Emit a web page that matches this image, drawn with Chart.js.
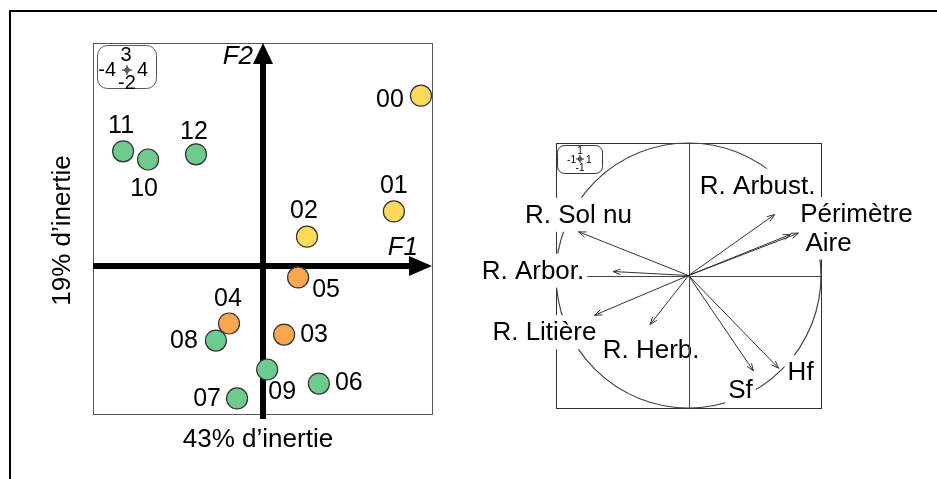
<!DOCTYPE html>
<html>
<head>
<meta charset="utf-8">
<script src="https://cdn.jsdelivr.net/npm/chart.js@4.4.0/dist/chart.umd.min.js"></script>
<style>
  body { margin: 0; background: #fff; width: 937px; height: 479px; overflow: hidden; position: relative; }
  #frame { position: absolute; left: 9px; top: 10px; width: 940px; height: 480px; border-top: 2px solid #000; border-left: 2px solid #000; }
  canvas { position: absolute; top: 0; }
</style>
</head>
<body>
<div id="frame"></div>
<canvas id="scoreChart" width="480" height="479" style="left:0"></canvas>
<canvas id="circleChart" width="467" height="479" style="left:470px"></canvas>
<script>
// relevés dans le plan F1 x F2
var siteLabels = ["00", "01", "02", "03", "04", "05", "06", "07", "08", "09", "10", "11", "12"];
var siteF1 = [3.74, 3.10, 1.05, 0.51, -0.79, 0.84, 1.33, -0.60, -1.10, 0.11, -2.70, -3.29, -1.57];
var siteF2 = [2.29, 0.73, 0.39, -0.93, -0.78, -0.16, -1.59, -1.79, -1.01, -1.40, 1.43, 1.54, 1.50];
var siteGroup = [0, 0, 0, 1, 1, 1, 2, 2, 2, 2, 2, 2, 2];
var groupColors = ["#FFD95A", "#F9A64E", "#6CCB8D"];
// décalage des étiquettes (px)
var siteLabelOffset = [[-31, 3], [0, -26], [-3, -27], [30, 0], [-1, -25], [28, 12], [30, -1], [-30, 0], [-32, 0], [15, 22], [-4, 29], [-2, -26], [-2, -23]];

// cercle des corrélations
var varLabels = ["R. Arbust.", "Périmètre", "Aire", "R. Sol nu", "R. Arbor.", "R. Litière", "R. Herb.", "Sf", "Hf"];
var varF1 = [0.65, 0.83, 0.77, -0.83, -0.57, -0.71, -0.29, 0.49, 0.68];
var varF2 = [0.46, 0.32, 0.31, 0.33, 0.03, -0.30, -0.37, -0.72, -0.70];
var varLabelOffset = [[-17, -29], [58, -19], [38, 8], [0, -17], [-80, -1], [-50, 17], [1, 25], [-13, 19], [22, 4]];

var FONT = "'Liberation Sans', Arial, sans-serif";

function insetBox(ctx, x, y, w, h, r) {
  ctx.beginPath();
  ctx.roundRect(x + 0.5, y + 0.5, w, h, r);
  ctx.stroke();
}
function crossMark(ctx, cx, cy, s) {
  ctx.beginPath();
  ctx.arc(cx, cy, s * 0.45, 0, Math.PI * 2);
  ctx.moveTo(cx - s, cy); ctx.lineTo(cx + s, cy);
  ctx.moveTo(cx, cy - s); ctx.lineTo(cx, cy + s);
  ctx.stroke();
}

// ---------- graphe de gauche ----------
var scoreDecor = {
  id: "scoreDecor",
  beforeDatasetsDraw: function (chart) {
    var ctx = chart.ctx, a = chart.chartArea;
    var x0 = Math.round(chart.scales.x.getPixelForValue(0));
    var y0 = Math.round(chart.scales.y.getPixelForValue(0));
    ctx.save();
    ctx.strokeStyle = "#555";
    ctx.lineWidth = 1;
    ctx.strokeRect(a.left + 0.5, a.top + 0.5, a.right - a.left, a.bottom - a.top);

    // axes F1 et F2
    ctx.strokeStyle = "#000";
    ctx.fillStyle = "#000";
    ctx.lineWidth = 6;
    ctx.beginPath(); ctx.moveTo(a.left, y0); ctx.lineTo(a.right - 20, y0); ctx.stroke();
    ctx.beginPath(); ctx.moveTo(a.right, y0); ctx.lineTo(a.right - 23, y0 - 10); ctx.lineTo(a.right - 23, y0 + 10); ctx.closePath(); ctx.fill();
    ctx.beginPath(); ctx.moveTo(x0, a.bottom + 5); ctx.lineTo(x0, a.top + 18); ctx.stroke();
    ctx.beginPath(); ctx.moveTo(x0, a.top); ctx.lineTo(x0 - 10, a.top + 21); ctx.lineTo(x0 + 10, a.top + 21); ctx.closePath(); ctx.fill();

    ctx.font = "italic 26px " + FONT;
    ctx.textBaseline = "middle";
    ctx.textAlign = "right";
    ctx.fillText("F2", x0 - 10, a.top + 14);
    ctx.fillText("F1", a.right - 14, y0 - 18);

    // titres des axes
    ctx.font = "26px " + FONT;
    ctx.textAlign = "center";
    ctx.fillText("43% d\u2019inertie", 258, 440);
    ctx.save();
    ctx.translate(63, (a.top + a.bottom) / 2 + 2);
    ctx.rotate(-Math.PI / 2);
    ctx.fillText("19% d\u2019inertie", 0, 0);
    ctx.restore();

    // échelle
    ctx.strokeStyle = "#555";
    ctx.lineWidth = 1;
    insetBox(ctx, 97, 45, 59, 43, 10);
    ctx.font = "20px " + FONT;
    ctx.textAlign = "center";
    ctx.fillText("3", 126, 55);
    ctx.fillText("-2", 127, 83);
    ctx.textAlign = "right";
    ctx.fillText("-4", 116, 70);
    ctx.textAlign = "left";
    ctx.fillText("4", 137, 70);
    ctx.strokeStyle = "#222";
    crossMark(ctx, 127, 70, 5);
    ctx.restore();
  },
  afterDatasetsDraw: function (chart) {
    var ctx = chart.ctx;
    var meta = chart.getDatasetMeta(0);
    ctx.save();
    ctx.font = "25px " + FONT;
    ctx.fillStyle = "#000";
    ctx.textAlign = "center";
    ctx.textBaseline = "middle";
    meta.data.forEach(function (pt, i) {
      ctx.fillText(siteLabels[i], pt.x + siteLabelOffset[i][0], pt.y + siteLabelOffset[i][1] + 1);
    });
    ctx.restore();
  }
};

new Chart(document.getElementById("scoreChart"), {
  type: "scatter",
  data: {
    datasets: [{
      data: siteF1.map(function (v, i) { return { x: v, y: siteF2[i] }; }),
      backgroundColor: siteGroup.map(function (g) { return groupColors[g]; }),
      borderColor: "#333",
      borderWidth: 1.2,
      pointRadius: 10.5,
      clip: false
    }]
  },
  options: {
    responsive: false,
    devicePixelRatio: 1,
    animation: false,
    layout: { padding: { left: 93, top: 43, right: 48, bottom: 65 } },
    scales: {
      x: { display: false, min: -4, max: 4 },
      y: { display: false, min: -2, max: 3 }
    },
    plugins: { legend: { display: false }, tooltip: { enabled: false } }
  },
  plugins: [scoreDecor]
});

// ---------- cercle des corrélations ----------
var circleDecor = {
  id: "circleDecor",
  beforeDatasetsDraw: function (chart) {
    var ctx = chart.ctx, a = chart.chartArea;
    var sx = chart.scales.x, sy = chart.scales.y;
    var cx = sx.getPixelForValue(0), cy = sy.getPixelForValue(0);
    var r = sx.getPixelForValue(1) - cx;
    ctx.save();
    ctx.strokeStyle = "#333";
    ctx.lineWidth = 1;
    ctx.strokeRect(a.left + 0.5, a.top + 0.5, a.right - a.left, a.bottom - a.top);
    ctx.strokeStyle = "#444";
    ctx.lineWidth = 1.2;
    ctx.beginPath(); ctx.arc(cx, cy, r, 0, Math.PI * 2); ctx.stroke();
    ctx.lineWidth = 1;
    ctx.beginPath(); ctx.moveTo(a.left, Math.round(cy) + 0.5); ctx.lineTo(a.right, Math.round(cy) + 0.5); ctx.stroke();

    // étiquettes des variables (fond blanc)
    ctx.font = "26px " + FONT;
    ctx.textAlign = "center";
    ctx.textBaseline = "middle";
    varLabels.forEach(function (lab, i) {
      var tx = sx.getPixelForValue(varF1[i]) + varLabelOffset[i][0];
      var ty = sy.getPixelForValue(varF2[i]) + varLabelOffset[i][1];
      var w = ctx.measureText(lab).width;
      if (lab !== "R. Herb.") {
        ctx.fillStyle = "#fff";
        ctx.fillRect(tx - w / 2 - 3, ty - 17, w + 6, 34);
      }
      ctx.fillStyle = "#000";
      ctx.fillText(lab, tx, ty + 1);
    });
    ctx.strokeStyle = "#444";
    ctx.beginPath(); ctx.moveTo(Math.round(cx) + 0.5, a.top); ctx.lineTo(Math.round(cx) + 0.5, a.bottom); ctx.stroke();

    // échelle (coin haut gauche du cadre)
    var bx = a.left + 1, by = a.top + 2;
    ctx.strokeStyle = "#333";
    insetBox(ctx, bx, by, 45, 28, 7);
    ctx.fillStyle = "#000";
    ctx.font = "10px " + FONT;
    ctx.textAlign = "center";
    ctx.fillText("1", bx + 23, by + 6);
    ctx.fillText("-1", bx + 23, by + 23);
    ctx.textAlign = "right";
    ctx.fillText("-1", bx + 19, by + 15);
    ctx.textAlign = "left";
    ctx.fillText("1", bx + 29, by + 15);
    crossMark(ctx, bx + 23, by + 14, 4);
    ctx.restore();
  },
  afterDatasetsDraw: function (chart) {
    var ctx = chart.ctx;
    ctx.save();
    ctx.strokeStyle = "#333";
    ctx.lineWidth = 1;
    chart.data.datasets.forEach(function (ds, i) {
      var pts = chart.getDatasetMeta(i).data;
      var p0 = pts[0], p1 = pts[1];
      var ang = Math.atan2(p1.y - p0.y, p1.x - p0.x);
      ctx.beginPath();
      ctx.moveTo(p1.x - 8 * Math.cos(ang - 0.35), p1.y - 8 * Math.sin(ang - 0.35));
      ctx.lineTo(p1.x, p1.y);
      ctx.lineTo(p1.x - 8 * Math.cos(ang + 0.35), p1.y - 8 * Math.sin(ang + 0.35));
      ctx.stroke();
    });
    ctx.restore();
  }
};

new Chart(document.getElementById("circleChart"), {
  type: "scatter",
  data: {
    datasets: varLabels.map(function (lab, i) {
      return {
        label: lab,
        data: [{ x: 0, y: 0 }, { x: varF1[i], y: varF2[i] }],
        showLine: true,
        borderColor: "#333",
        borderWidth: 1,
        pointRadius: 0,
        clip: false
      };
    })
  },
  options: {
    responsive: false,
    devicePixelRatio: 1,
    animation: false,
    layout: { padding: { left: 86, top: 143, right: 116, bottom: 71 } },
    scales: {
      x: { display: false, min: -1, max: 1 },
      y: { display: false, min: -1, max: 1 }
    },
    plugins: { legend: { display: false }, tooltip: { enabled: false } }
  },
  plugins: [circleDecor]
});
</script>
</body>
</html>
